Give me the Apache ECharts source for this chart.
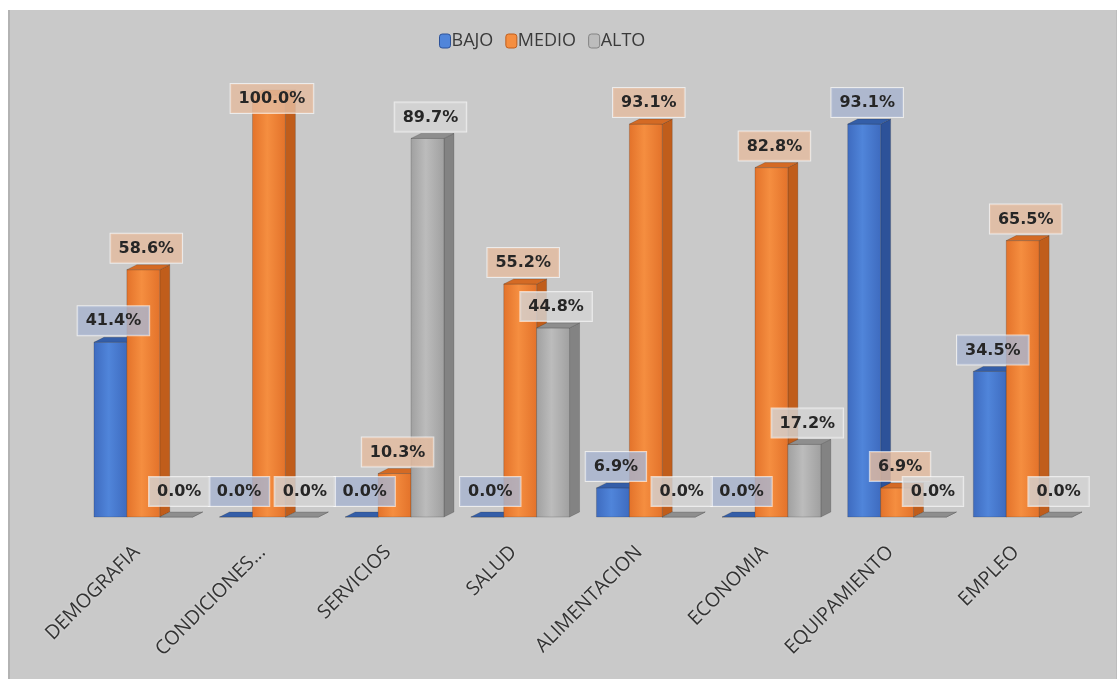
<!DOCTYPE html>
<html>
<head>
<meta charset="utf-8">
<title>BAJO / MEDIO / ALTO por dimensión</title>
<script src="https://cdn.jsdelivr.net/npm/echarts@6/dist/echarts.min.js"></script>
<style>
  html, body { margin: 0; padding: 0; background: #ffffff; }
  #frame {
    position: absolute; left: 8px; top: 10px; width: 1109px; height: 669px;
    background: #c9c9c9; border-left: 2px solid #b3b3b3; border-right: 1px solid #bdbdbd;
    box-sizing: border-box;
  }
  #chart { width: 100%; height: 100%; }
</style>
</head>
<body>
<div id="frame"><div id="chart"></div></div>
<script>
// Dimensiones evaluadas
const categories = ['DEMOGRAFIA', 'CONDICIONES...', 'SERVICIOS', 'SALUD', 'ALIMENTACION', 'ECONOMIA', 'EQUIPAMIENTO', 'EMPLEO'];
// Porcentaje por nivel
const bajo  = [41.4, 0.0, 0.0, 0.0, 6.9, 0.0, 93.1, 34.5];
const medio = [58.6, 100.0, 10.3, 55.2, 93.1, 82.8, 6.9, 65.5];
const alto  = [0.0, 0.0, 89.7, 44.8, 0.0, 17.2, 0.0, 0.0];

const levels = [
  { name: 'BAJO',  values: bajo,  front: ['#3e6bbf', '#5085da', '#3e6bbf'], side: '#2d5299', top: '#345ea8', label: 'rgba(168,180,208,0.82)' },
  { name: 'MEDIO', values: medio, front: ['#e3722a', '#f58e40', '#e3722a'], side: '#c05d1b', top: '#d46a24', label: 'rgba(228,188,160,0.82)' },
  { name: 'ALTO',  values: alto,  front: ['#a0a0a0', '#bcbcbc', '#a0a0a0'], side: '#838383', top: '#8e8e8e', label: 'rgba(212,212,212,0.82)' }
];

const DEPTH_X = 10, DEPTH_Y = 5;

// Geometry of one column inside its category band
function columnBox(api, idx, value) {
  const ci = api.value(0);
  const base = api.coord([ci, 0]);
  const top = api.coord([ci, value]);
  const band = api.size([1, 0])[0];
  const w = band * 33 / 126;
  const x0 = base[0] - 1.5 * w - 0.5 + idx * w;
  return { x0: x0, w: w, yTop: top[1], yBase: base[1], yFull: api.coord([ci, 100])[1] };
}

function barSeries(level, idx) {
  return {
    type: 'custom',
    name: level.name,
    z: 2,
    itemStyle: { color: level.front[1] },
    data: level.values.map((v, i) => [i, v]),
    encode: { x: 0, y: 1 },
    renderItem: function (params, api) {
      const b = columnBox(api, idx, api.value(1));
      const x1 = b.x0 + b.w;
      const grad = new echarts.graphic.LinearGradient(0, 0, 1, 0, [
        { offset: 0, color: level.front[0] },
        { offset: 0.45, color: level.front[1] },
        { offset: 1, color: level.front[2] }
      ]);
      const edge = 'rgba(40,40,40,0.35)';
      return {
        type: 'group',
        children: [
          { type: 'polygon', shape: { points: [[x1, b.yTop], [x1 + DEPTH_X, b.yTop - DEPTH_Y], [x1 + DEPTH_X, b.yBase - DEPTH_Y], [x1, b.yBase]] },
            style: { fill: level.side, stroke: edge, lineWidth: 0.6 } },
          { type: 'rect', shape: { x: b.x0, y: b.yTop, width: b.w, height: Math.max(0, b.yBase - b.yTop) },
            style: { fill: grad, stroke: edge, lineWidth: 0.6 } },
          { type: 'polygon', shape: { points: [[b.x0, b.yTop], [b.x0 + DEPTH_X, b.yTop - DEPTH_Y], [x1 + DEPTH_X, b.yTop - DEPTH_Y], [x1, b.yTop]] },
            style: { fill: level.top, stroke: edge, lineWidth: 0.6 } }
        ]
      };
    }
  };
}

// Value boxes above each column, kept inside the plot area
function labelSeries(level, idx) {
  return {
    type: 'custom',
    name: level.name,
    z: 10,
    silent: true,
    data: level.values.map((v, i) => [i, v]),
    encode: { x: 0, y: 1 },
    renderItem: function (params, api) {
      const v = api.value(1);
      const b = columnBox(api, idx, v);
      const bottom = Math.max(b.yTop - DEPTH_Y - (v === 0 ? 6 : 2), b.yFull + 18);
      return {
        type: 'text',
        x: b.x0 + b.w / 2 + 3,
        y: bottom,
        style: {
          text: v.toFixed(1) + '%',
          fill: '#262626',
          font: 'bold 16px "DejaVu Sans", sans-serif',
          align: 'center',
          verticalAlign: 'bottom',
          backgroundColor: level.label,
          borderColor: 'rgba(255,255,255,0.65)',
          borderWidth: 1,
          padding: [7, 8, 6, 8]
        }
      };
    }
  };
}

const chart = echarts.init(document.getElementById('chart'));
chart.setOption({
  backgroundColor: 'transparent',
  animation: false,
  legend: {
    top: 17,
    left: 424,
    itemWidth: 11,
    itemHeight: 14,
    itemGap: 12,
    data: levels.map(l => ({ name: l.name, itemStyle: { color: l.front[1], borderColor: l.side, borderWidth: 1 } })),
    textStyle: { color: '#3a3a3a', fontSize: 18, fontFamily: '"Liberation Sans Narrow", "Open Sans", sans-serif', padding: [0, 0, 0, -4] }
  },
  grid: { left: 71, right: 30, top: 85, bottom: 162, containLabel: false },
  xAxis: {
    type: 'category',
    data: categories,
    axisLine: { show: false },
    axisTick: { show: false },
    axisLabel: {
      interval: 0,
      rotate: 45,
      margin: 25,
      padding: [0, 10, 0, 0],
      color: '#333333',
      fontSize: 19.5,
      fontFamily: '"Open Sans", sans-serif',
      textShadowColor: 'rgba(255,255,255,0.45)',
      textShadowBlur: 3
    }
  },
  yAxis: { type: 'value', min: 0, max: 100, show: false },
  series: levels.map(barSeries).concat(levels.map(labelSeries))
});
</script>
</body>
</html>
